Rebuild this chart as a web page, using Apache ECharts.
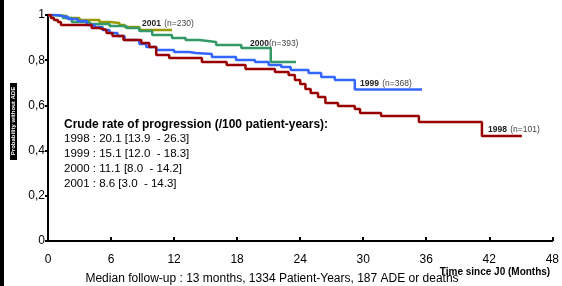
<!DOCTYPE html>
<html>
<head>
<meta charset="utf-8">
<script src="https://cdn.jsdelivr.net/npm/echarts@6/dist/echarts.min.js"></script>
<style>
body{margin:0;background:#fff;}
#main{width:562px;height:286px;}
</style>
</head>
<body>
<div id="main"></div>
<script>
// [month, survival] steps
var s1998 = [[0,1],[0.28,0.987],[0.57,0.978],[0.94,0.969],[1.23,0.956],[4.16,0.942],[4.91,0.934],[5.57,0.92],[6.14,0.907],[7.18,0.889],[8.88,0.876],[9.64,0.858],[10.3,0.823],[11.53,0.81],[14.65,0.792],[17.0,0.779],[18.8,0.761],[21.6,0.748],[22.9,0.735],[23.5,0.712],[24.0,0.695],[24.5,0.673],[25.0,0.655],[25.7,0.637],[26.4,0.611],[27.6,0.597],[29.2,0.584],[29.7,0.566],[31.7,0.553],[35.3,0.527],[41.3,0.465],[45.1,0.465]];
var s1999 = [[0,1],[0.94,0.996],[1.32,0.991],[1.89,0.982],[2.83,0.973],[3.69,0.956],[4.44,0.947],[5.2,0.934],[5.86,0.92],[6.61,0.907],[7.28,0.889],[8.69,0.872],[9.35,0.858],[10.3,0.845],[12.0,0.836],[13.4,0.832],[14.1,0.827],[15.6,0.814],[17.9,0.801],[19.7,0.792],[21.0,0.779],[22.2,0.77],[23.1,0.757],[24.8,0.743],[26.0,0.726],[27.3,0.712],[29.2,0.67],[35.6,0.67]];
var s2000 = [[0,1],[0.66,0.996],[1.42,0.987],[2.27,0.969],[3.97,0.96],[5.86,0.951],[7.46,0.942],[8.69,0.929],[9.92,0.912],[11.8,0.898],[13.1,0.889],[14.4,0.881],[16.0,0.867],[18.4,0.854],[21.2,0.792],[23.6,0.792]];
var s2001 = [[0,1],[0.66,0.996],[1.8,0.987],[3.0,0.978],[4.9,0.969],[5.9,0.965],[6.8,0.956],[7.3,0.947],[8.7,0.934],[11.8,0.934]];

var years = ['1998','1999','2000','2001'];
var counts = ['101','368','393','230'];
var colors = ['#990000','#3366ff','#339966','#999900'];
var rates = ['20.1 [13.9  - 26.3]','15.1 [12.0  - 18.3]','11.1 [8.0  - 14.2]','8.6 [3.0  - 14.3]'];
var xTicks = [0,6,12,18,24,30,36,42,48];
var yTicks = [0,0.2,0.4,0.6,0.8,1];

var font = '"Liberation Sans", Arial, sans-serif';
var allData = [s1998,s1999,s2000,s2001];

var series = [];
for(var i=0;i<allData.length;i++){
	series.push({
		name:years[i],
		type:'line',
		step:'end',
		data:allData[i],
		symbol:'none',
		lineStyle:{color:colors[i],width:2.5},
		z:10-i
	});
}

// where the curve labels sit
var lblPos = [[488,130],[360,84],[250,44],[142,24]];
var graphics = [
	{type:'rect',shape:{x:0,y:0,width:4,height:286},style:{fill:'#000'}},
	{type:'rect',shape:{x:10,y:83,width:7,height:77},style:{fill:'#000'}},
	{type:'text',x:13.5,y:121,rotation:Math.PI/2,style:{text:'Probability without ADE',fill:'#fff',font:'bold 6px '+font,align:'center',verticalAlign:'middle'}},
	{type:'text',x:64,y:125,style:{text:'Crude rate of progression (/100 patient-years):',font:'bold 12px '+font,fill:'#000',verticalAlign:'middle'}},
	{type:'text',x:272,y:279,style:{text:'Median follow-up : 13 months, 1334 Patient-Years, 187 ADE or deaths',font:'12px '+font,fill:'#000',align:'center',verticalAlign:'middle'}},
	{type:'text',x:495,y:272,style:{text:'Time since J0 (Months)',font:'bold 10px '+font,fill:'#000',align:'center',verticalAlign:'middle'}}
];
for(var j=0;j<years.length;j++){
	graphics.push({type:'text',x:64,y:139+j*15,style:{text:years[j]+' : '+rates[j],font:'11.5px '+font,fill:'#000',verticalAlign:'middle'}});
	graphics.push({type:'text',x:lblPos[j][0],y:lblPos[j][1],style:{
		text:'{b|'+years[j]+'}'+(j==2?'':' ')+'{n|(n='+counts[j]+')}',
		verticalAlign:'middle',
		rich:{b:{font:'bold 8.5px '+font,fill:'#222'},n:{font:'8.5px '+font,fill:'#444'}}
	}});
}

var myChart = echarts.init(document.getElementById('main'));
var option = {
	animation:false,
	backgroundColor:'#fff',
	grid:{left:48,right:6,top:15,bottom:45},
	xAxis:{
		type:'value',min:0,max:48,interval:6,
		axisLine:{lineStyle:{color:'#000',width:2}},
		axisTick:{inside:true,length:4,lineStyle:{color:'#000',width:2}},
		axisLabel:{color:'#000',fontSize:12,fontFamily:font,margin:13},
		splitLine:{show:false}
	},
	yAxis:{
		type:'value',min:0,max:1,interval:0.2,
		axisLine:{show:true,lineStyle:{color:'#000',width:2}},
		axisTick:{show:true,length:3,lineStyle:{color:'#000',width:2}},
		axisLabel:{color:'#000',fontSize:12,fontFamily:font,margin:3,
			formatter:function(v){return String(Math.round(v*10)/10).replace('.',',');}},
		splitLine:{show:false}
	},
	series:series,
	graphic:graphics
};
myChart.setOption(option);
</script>
</body>
</html>
